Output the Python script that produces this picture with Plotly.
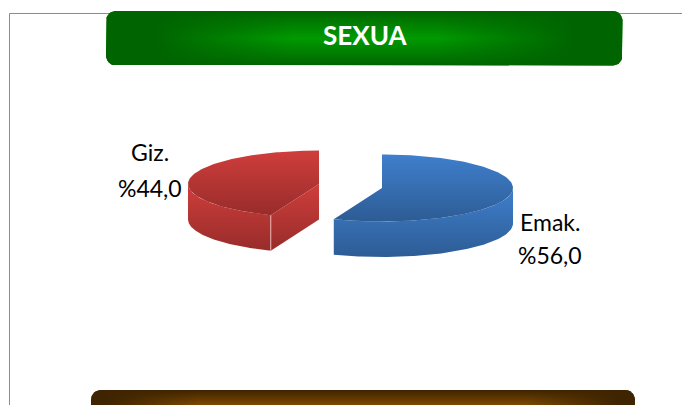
import numpy as np
import plotly.graph_objects as go

# Data
categories = ["Emak.", "Giz."]
values = [56.0, 44.0]
title_text = "SEXUA"

# Colours per slice: (light, dark)
slice_colors = {"Emak.": ("#3f7fcd", "#2d5c94"), "Giz.": ("#cf3e3c", "#982c2a")}

W, H = 682, 405
A, B, DEPTH = 131, 33.5, 35.5
CENTERS = {"Emak.": (382, 188), "Giz.": (319, 184)}


def rounded(x0, y0, x1, y1, r):
    xs, ys = [], []
    for cx, cy, t0 in [(x1 - r, y0 + r, -90), (x1 - r, y1 - r, 0), (x0 + r, y1 - r, 90), (x0 + r, y0 + r, 180)]:
        t = np.radians(np.linspace(t0, t0 + 90, 10))
        xs += list(cx + r * np.cos(t))
        ys += list(cy + r * np.sin(t))
    return xs + xs[:1], ys + ys[:1]


def grad(light, dark):
    return dict(type="vertical", colorscale=[[0, dark], [1, light]])


def face(fig, xs, ys, light, dark):
    fig.add_trace(go.Scatter(
        x=list(xs), y=list(ys), mode="lines", fill="toself", fillgradient=grad(light, dark),
        line=dict(width=0, color="rgba(0,0,0,0)"),
        hoverinfo="skip", showlegend=False))


def ell(c, th):
    return c[0] + A * np.sin(th), c[1] - B * np.cos(th)


fig = go.Figure()

# Banners: a vertical glow, with the far ends darkened by a second layer
banners = [
    ((106, 11, 622.5, 65.5),
     [[0, "#006600"], [0.3, "#008500"], [0.5, "#009a00"], [0.7, "#008500"], [1, "#006600"]],
     "0,100,0", 0.09, 0.36),
    ((91, 390, 635, 444),
     [[0, "#3e2400"], [0.28, "#7f4900"], [0.5, "#8a5200"], [0.72, "#7f4900"], [1, "#3e2400"]],
     "62,36,0", 0.03, 0.2),
]
for box, vstops, rgb, full, clear in banners:
    bx, by = rounded(*box, 10)
    fig.add_trace(go.Scatter(
        x=bx, y=by, mode="lines", fill="toself",
        fillgradient=dict(type="vertical", colorscale=vstops),
        line=dict(width=0, color="rgba(0,0,0,0)"), hoverinfo="skip", showlegend=False))
    fig.add_trace(go.Scatter(
        x=bx, y=by, mode="lines", fill="toself",
        fillgradient=dict(type="horizontal", colorscale=[
            [0, f"rgba({rgb},1)"], [full, f"rgba({rgb},1)"], [clear, f"rgba({rgb},0)"],
            [1 - clear, f"rgba({rgb},0)"], [1 - full, f"rgba({rgb},1)"], [1, f"rgba({rgb},1)"]]),
        line=dict(width=0, color="rgba(0,0,0,0)"), hoverinfo="skip", showlegend=False))

# Pie slices drawn clockwise from north
start = 0.0
total = sum(values)
for cat, val in zip(categories, values):
    end = start + val / total * 2 * np.pi
    c = CENTERS[cat]
    light, dark = slice_colors[cat]
    th = np.linspace(start, end, 160)
    x, y = ell(c, th)
    # Outer wall: visible where the rim faces the viewer
    vis = np.linspace(max(start, np.pi / 2), min(end, 3 * np.pi / 2), 160)
    vx, vy = ell(c, vis)
    face(fig, np.r_[vx, vx[::-1], vx[0]], np.r_[vy, vy[::-1] + DEPTH, vy[0]], light, dark)
    # Cut wall: the end radius, when it faces the viewer
    if cat == "Giz.":
        sx, sy = ell(c, start)
        face(fig, [c[0], sx, sx, c[0], c[0]], [c[1], sy, sy + DEPTH, c[1] + DEPTH, c[1]], light, dark)
        fig.add_trace(go.Scatter(x=[sx, sx], y=[sy, sy + DEPTH], mode="lines",
                                 line=dict(color="#e9b4b2", width=1), hoverinfo="skip", showlegend=False))
    # Top face
    face(fig, np.r_[c[0], x, c[0]], np.r_[c[1], y, c[1]], light, dark)
    start = end

# Labels
label_pos = {"Emak.": ((518, 222), (516, 255)), "Giz.": ((150, 152), (150, 188))}
annotations = [dict(x=364.5, y=35, text="<b>%s</b>" % title_text, showarrow=False,
                    font=dict(family="Lato", size=26, color="white"))]
for cat, val in zip(categories, values):
    (x1, y1), (x2, y2) = label_pos[cat]
    pct = "%" + f"{val:.1f}".replace(".", ",")
    anchor = "left" if cat == "Emak." else "center"
    annotations.append(dict(x=x1, y=y1, text=cat, showarrow=False, xanchor=anchor,
                            font=dict(family="Lato", size=23, color="black")))
    annotations.append(dict(x=x2, y=y2, text=pct, showarrow=False, xanchor=anchor,
                            font=dict(family="Lato", size=23, color="black")))

fig.update_layout(
    width=W, height=H, margin=dict(l=0, r=0, t=0, b=0),
    paper_bgcolor="white", plot_bgcolor="white", showlegend=False,
    xaxis=dict(range=[0, W], visible=False, fixedrange=True),
    yaxis=dict(range=[H, 0], visible=False, fixedrange=True),
    annotations=annotations,
    shapes=[
        dict(type="line", x0=9.5, x1=9.5, y0=13.5, y1=H, line=dict(color="#8c8c8c", width=1), layer="below"),
        dict(type="line", x0=9.5, x1=W, y0=13.5, y1=13.5, line=dict(color="#8c8c8c", width=1), layer="below"),
    ],
)
fig.write_html("out.html", config={"displayModeBar": False},
               post_script="document.documentElement.style.overflow='hidden';document.body.style.margin='0';")
